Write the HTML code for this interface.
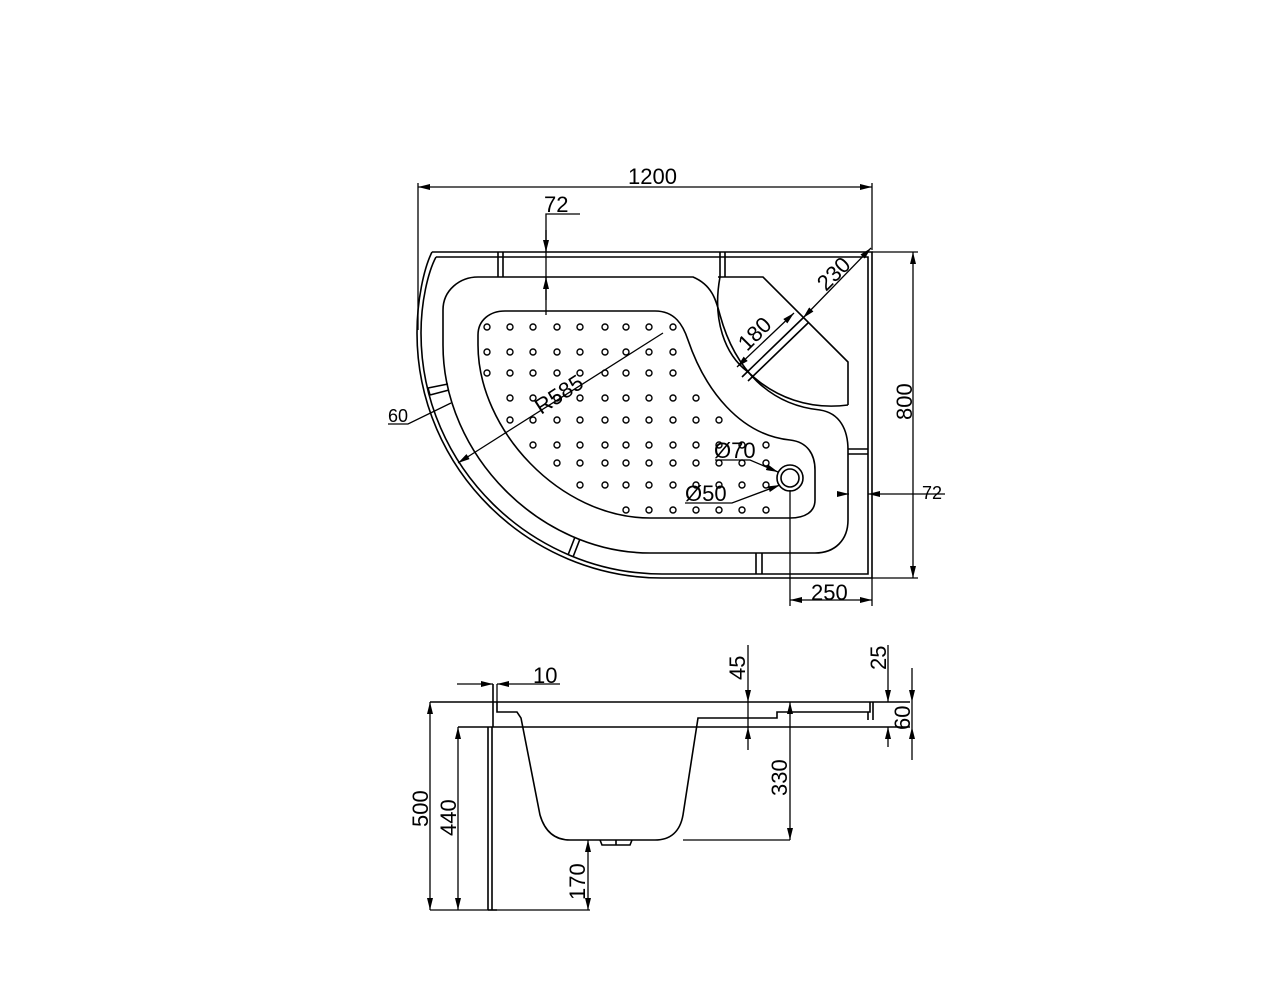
<!DOCTYPE html>
<html><head><meta charset="utf-8"><style>
html,body{margin:0;padding:0;background:#fff}
svg{display:block}
text{font-family:"Liberation Sans",sans-serif;font-size:22px;fill:#000}
</style></head><body>
<svg width="1280" height="989" viewBox="0 0 1280 989" xmlns="http://www.w3.org/2000/svg">
<defs>
<marker id="a" viewBox="0 0 12 6" refX="12" refY="3" markerWidth="12" markerHeight="6" orient="auto-start-reverse" markerUnits="userSpaceOnUse"><path d="M0,0L12,3L0,6z" fill="#000"/></marker>
<circle id="d" r="3" fill="none" stroke="#000" stroke-width="1.4"/>
</defs>
<g fill="none" stroke="#000" stroke-width="1.6">
<path d="M432,252 L872,252 L872,578 L662,578 C530,578 417,470 417,333 C417,300 424,268 432,252"/>
<path d="M436,257 L868,257 L868,574 L662,574 C533,574 421,468 421,333 C421,302 428,272 436,257"/>
<path d="M478,277 L693,277 C712,285 716,300 720,315 C735,370 770,405 820,410 C840,413 848,430 848,450 L848,520 C848,540 835,553 815,553 L650,553 C540,553 443,455 443,345 L443,310 C443,290 460,277 478,277"/>
<path d="M718,277 L763,277 L848,362 L848,405"/>
<path d="M720,277 C712,320 725,355 748,372 C775,398 810,410 848,405"/>
<path d="M742,377 L803,318 M748,381 L808,323"/>
<path d="M505,311 L655,311 C675,311 683,325 688,340 C705,390 740,435 790,440 C808,442 815,455 815,470 L815,500 C815,512 805,518 790,518 L650,518 C560,518 478,430 478,345 L478,335 C478,320 490,311 505,311"/>
<path d="M498,252 L498,277 M503,252 L503,277 M720,252 L720,277 M725,252 L725,277"/>
<path d="M428,388 L448,384 M430,395 L449,390 M428,388 L430,395"/>
<path d="M575,537 L568,555 M580,539 L573,557"/>
<path d="M756,553 L756,574 M762,553 L762,574"/>
<path d="M848,449 L868,449 M848,454 L868,454"/>
<circle cx="790" cy="478" r="13"/>
<circle cx="790" cy="478" r="9"/>
</g>
<g>
<use href="#d" x="487" y="327"/><use href="#d" x="510" y="327"/><use href="#d" x="533" y="327"/><use href="#d" x="557" y="327"/><use href="#d" x="580" y="327"/><use href="#d" x="605" y="327"/><use href="#d" x="626" y="327"/><use href="#d" x="649" y="327"/><use href="#d" x="673" y="327"/>
<use href="#d" x="487" y="352"/><use href="#d" x="510" y="352"/><use href="#d" x="533" y="352"/><use href="#d" x="557" y="352"/><use href="#d" x="580" y="352"/><use href="#d" x="605" y="352"/><use href="#d" x="626" y="352"/><use href="#d" x="649" y="352"/><use href="#d" x="673" y="352"/>
<use href="#d" x="487" y="373"/><use href="#d" x="510" y="373"/><use href="#d" x="533" y="373"/><use href="#d" x="557" y="373"/><use href="#d" x="580" y="373"/><use href="#d" x="605" y="373"/><use href="#d" x="626" y="373"/><use href="#d" x="649" y="373"/><use href="#d" x="673" y="373"/>
<use href="#d" x="510" y="398"/><use href="#d" x="533" y="398"/><use href="#d" x="557" y="398"/><use href="#d" x="580" y="398"/><use href="#d" x="605" y="398"/><use href="#d" x="626" y="398"/><use href="#d" x="649" y="398"/><use href="#d" x="673" y="398"/><use href="#d" x="696" y="398"/>
<use href="#d" x="510" y="420"/><use href="#d" x="533" y="420"/><use href="#d" x="557" y="420"/><use href="#d" x="580" y="420"/><use href="#d" x="605" y="420"/><use href="#d" x="626" y="420"/><use href="#d" x="649" y="420"/><use href="#d" x="673" y="420"/><use href="#d" x="696" y="420"/><use href="#d" x="719" y="420"/>
<use href="#d" x="533" y="445"/><use href="#d" x="557" y="445"/><use href="#d" x="580" y="445"/><use href="#d" x="605" y="445"/><use href="#d" x="626" y="445"/><use href="#d" x="649" y="445"/><use href="#d" x="673" y="445"/><use href="#d" x="696" y="445"/><use href="#d" x="719" y="445"/><use href="#d" x="742" y="445"/><use href="#d" x="766" y="445"/>
<use href="#d" x="557" y="463"/><use href="#d" x="580" y="463"/><use href="#d" x="605" y="463"/><use href="#d" x="626" y="463"/><use href="#d" x="649" y="463"/><use href="#d" x="673" y="463"/><use href="#d" x="696" y="463"/><use href="#d" x="719" y="463"/><use href="#d" x="742" y="463"/><use href="#d" x="766" y="463"/>
<use href="#d" x="580" y="485"/><use href="#d" x="605" y="485"/><use href="#d" x="626" y="485"/><use href="#d" x="649" y="485"/><use href="#d" x="673" y="485"/><use href="#d" x="696" y="485"/><use href="#d" x="719" y="485"/><use href="#d" x="742" y="485"/><use href="#d" x="766" y="485"/>
<use href="#d" x="626" y="510"/><use href="#d" x="649" y="510"/><use href="#d" x="673" y="510"/><use href="#d" x="696" y="510"/><use href="#d" x="719" y="510"/><use href="#d" x="742" y="510"/><use href="#d" x="766" y="510"/>
</g>
<g fill="none" stroke="#000" stroke-width="1.3">
<line x1="418" y1="187" x2="872" y2="187" marker-start="url(#a)" marker-end="url(#a)"/>
<line x1="418" y1="183" x2="418" y2="330"/>
<line x1="872" y1="183" x2="872" y2="250"/>
<path d="M580,214 L546,214 L546,315"/>
<line x1="546" y1="230" x2="546" y2="252" marker-end="url(#a)"/>
<line x1="546" y1="300" x2="546" y2="277" marker-end="url(#a)"/>
<line x1="803" y1="318" x2="871" y2="248" marker-start="url(#a)" marker-end="url(#a)"/>
<line x1="737" y1="367" x2="794" y2="313" marker-start="url(#a)" marker-end="url(#a)"/>
<line x1="663" y1="333" x2="458" y2="463" marker-end="url(#a)"/>
<path d="M388,424 L408,424 L451,403"/>
<line x1="913" y1="252" x2="913" y2="578" marker-start="url(#a)" marker-end="url(#a)"/>
<line x1="872" y1="252" x2="918" y2="252"/>
<line x1="872" y1="578" x2="918" y2="578"/>
<line x1="945" y1="494" x2="868" y2="494" marker-end="url(#a)"/>
<line x1="838" y1="494" x2="849" y2="494" marker-end="url(#a)"/>
<line x1="790" y1="600" x2="872" y2="600" marker-start="url(#a)" marker-end="url(#a)"/>
<line x1="790" y1="490" x2="790" y2="606"/>
<line x1="872" y1="578" x2="872" y2="606"/>
<path d="M715,460 L750,460 L778,472" marker-end="url(#a)"/>
<path d="M685,503 L732,503 L780,485" marker-end="url(#a)"/>
</g>
<g>
<text x="628" y="184">1200</text>
<text x="544" y="212">72</text>
<text transform="translate(826,292) rotate(-45)">230</text>
<text transform="translate(747,352) rotate(-45)">180</text>
<text transform="translate(541,415) rotate(-33)">R585</text>
<text x="388" y="422" style="font-size:18px">60</text>
<text transform="translate(912,420) rotate(-90)">800</text>
<text x="922" y="499" style="font-size:18px">72</text>
<text x="811" y="600">250</text>
<text x="714" y="458">Ø70</text>
<text x="685" y="501">Ø50</text>
</g>

<g fill="none" stroke="#000" stroke-width="1.6">
<line x1="430" y1="702" x2="910" y2="702"/>
<line x1="458" y1="727" x2="910" y2="727"/>
<path d="M493,684 L493,727"/>
<path d="M497,702 L497,712 L517,712 L521,718 L540,815 C545,832 555,840 570,840 L655,840 C670,840 680,832 683,815 L698,718 L777,718 L777,712 L870,712 L870,702"/>
<path d="M873,702 L873,720 M868,712 L868,720"/>
<path d="M488,727 L488,910 M492,727 L492,910 M488,910 L497,910"/>
<path d="M600,840 L602,845 L630,845 L632,840 M616,840 L616,845"/>
</g>
<g fill="none" stroke="#000" stroke-width="1.3">
<line x1="430" y1="702" x2="430" y2="910" marker-start="url(#a)" marker-end="url(#a)"/>
<line x1="458" y1="727" x2="458" y2="910" marker-start="url(#a)" marker-end="url(#a)"/>
<line x1="430" y1="910" x2="590" y2="910"/>
<line x1="588" y1="840" x2="588" y2="910" marker-start="url(#a)" marker-end="url(#a)"/>
<line x1="683" y1="840" x2="790" y2="840"/>
<line x1="790" y1="702" x2="790" y2="840" marker-start="url(#a)" marker-end="url(#a)"/>
<line x1="748" y1="645" x2="748" y2="702" marker-end="url(#a)"/>
<line x1="748" y1="750" x2="748" y2="727" marker-end="url(#a)"/>
<line x1="748" y1="702" x2="748" y2="727"/>
<line x1="888" y1="645" x2="888" y2="702" marker-end="url(#a)"/>
<line x1="888" y1="747" x2="888" y2="727" marker-end="url(#a)"/>
<line x1="912" y1="668" x2="912" y2="702" marker-end="url(#a)"/>
<line x1="912" y1="760" x2="912" y2="727" marker-end="url(#a)"/>
<line x1="912" y1="702" x2="912" y2="727"/>
<line x1="457" y1="684" x2="493" y2="684" marker-end="url(#a)"/>
<line x1="560" y1="684" x2="497" y2="684" marker-end="url(#a)"/>
<line x1="497" y1="684" x2="497" y2="702"/>
</g>
<g>
<text x="533" y="683">10</text>
<text transform="translate(745,680) rotate(-90)">45</text>
<text transform="translate(886,670) rotate(-90)">25</text>
<text transform="translate(910,730) rotate(-90)">60</text>
<text transform="translate(787,796) rotate(-90)">330</text>
<text transform="translate(428,827) rotate(-90)">500</text>
<text transform="translate(456,836) rotate(-90)">440</text>
<text transform="translate(585,900) rotate(-90)">170</text>
</g>
</svg>
</body></html>
